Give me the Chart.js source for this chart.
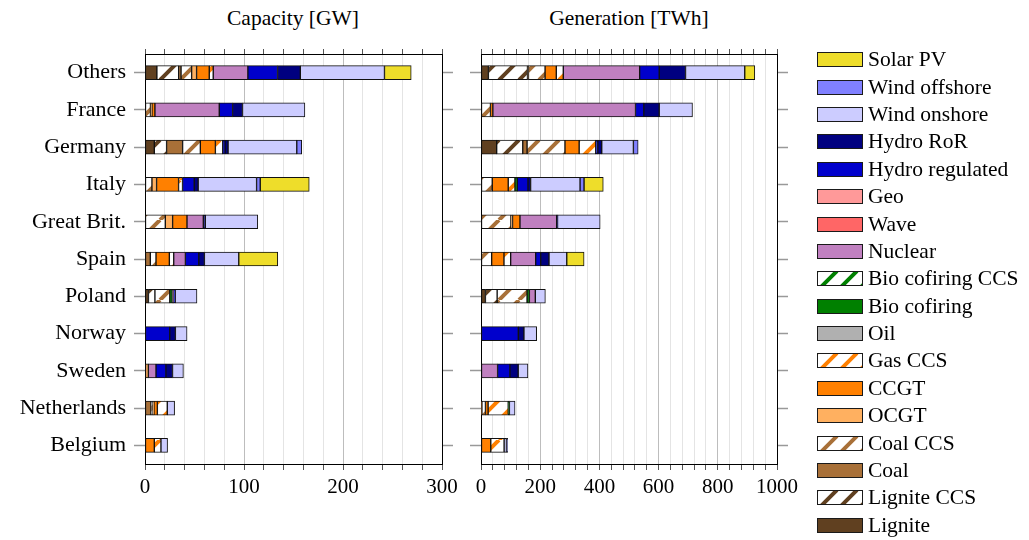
<!DOCTYPE html>
<html>
<head>
<meta charset="utf-8">
<script src="https://cdn.jsdelivr.net/npm/chart.js@4.4.1/dist/chart.umd.min.js"></script>
<style>
  body { margin: 0; background: #fff; width: 1029px; height: 540px; position: relative; overflow: hidden;
         font-family: 'Liberation Serif', serif; color: #000; }
  .title { position: absolute; top: 6px; font-size: 21.5px; transform: translateX(-50%); white-space: nowrap; }
  canvas.chart { position: absolute; top: 0; }
  #legend { position: absolute; left: 817px; top: 46px; }
  .item { display: flex; align-items: center; height: 27.4px; font-size: 21.5px; white-space: nowrap; }
  .item canvas { margin-right: 5px; }
</style>
</head>
<body>
<div class="title" style="left:293px">Capacity [GW]</div>
<div class="title" style="left:629px">Generation [TWh]</div>
<canvas id="cap" class="chart" width="470" height="540" style="left:0"></canvas>
<canvas id="gen" class="chart" width="351" height="540" style="left:459px"></canvas>
<div id="legend"></div>
<script>
// categories (top to bottom)
const countries = ['Others', 'France', 'Germany', 'Italy', 'Great Brit.', 'Spain', 'Poland', 'Norway', 'Sweden', 'Netherlands', 'Belgium'];

// technologies in stacking order (left to right)
const technologies = ['Lignite', 'Lignite CCS', 'Coal', 'Coal CCS', 'OCGT', 'CCGT', 'Gas CCS', 'Oil',
  'Bio cofiring', 'Bio cofiring CCS', 'Nuclear', 'Wave', 'Geo', 'Hydro regulated', 'Hydro RoR',
  'Wind onshore', 'Wind offshore', 'Solar PV'];

// capacity [GW]
const capLignite      = [12, 0, 9.4, 0, 0, 0, 3.5, 0, 0, 0, 0];
const capLigniteCCS   = [22, 0, 12.4, 0, 0, 0, 6.5, 0, 0, 0, 0];
const capCoal         = [2.4, 0, 16.2, 0, 0, 5.4, 0, 0, 0, 6, 0];
const capCoalCCS      = [10.7, 5.5, 17.9, 7, 20.5, 5.7, 15, 0, 0, 2, 0];
const capOCGT         = [5, 1.5, 0, 4.7, 7.4, 0, 0, 0, 3.4, 1, 0];
const capCCGT         = [12.8, 3, 15.2, 22.2, 14.5, 13.5, 0, 0, 0, 3.5, 9.4];
const capGasCCS       = [4, 0, 7.4, 4, 0, 4.4, 0, 0, 0, 10, 6.7];
const capOil          = [0, 0, 0, 0, 0, 0, 0, 0, 0, 0, 0];
const capBio          = [0, 0, 0, 0, 0, 0, 2.5, 0, 0, 0, 0];
const capBioCCS       = [0, 0, 0, 0, 0, 0, 0, 0, 0, 0, 0];
const capNuclear      = [35, 65, 0, 0, 16.5, 11.8, 1.5, 0, 7.7, 0, 0];
const capWave         = [0, 0, 0, 0, 0, 0, 0, 0, 0, 0, 0];
const capGeo          = [0, 0, 0, 0, 0, 0, 0, 0, 0, 0, 0];
const capHydroReg     = [30, 13.5, 2.4, 11.8, 0, 13.5, 1.5, 25, 10, 0, 0];
const capHydroRoR     = [23, 10, 3, 4, 2, 5.7, 0, 5.7, 6.7, 0, 0];
const capWindOn       = [85, 63, 69.4, 59, 53, 34.7, 22, 11.8, 11, 7.4, 6.7];
const capWindOff      = [0, 0, 5, 3.7, 0, 0, 0, 0, 0, 0, 0];
const capSolar        = [27, 0, 0, 49.5, 0, 39.4, 0, 0, 0, 0, 0];

// generation [TWh]
const genLignite      = [25, 0, 53, 0, 0, 0, 15, 0, 0, 0, 0];
const genLigniteCCS   = [132, 0, 88, 0, 0, 0, 39.5, 0, 0, 0, 0];
const genCoal         = [3.4, 0, 14.6, 0, 0, 0, 0, 0, 0, 3, 0];
const genCoalCCS      = [56, 32, 128, 38, 101, 36, 101, 0, 0, 12, 0];
const genOCGT         = [0, 0, 0, 0, 5.6, 0, 0, 0, 0, 0, 0];
const genCCGT         = [38, 8, 48, 54, 25, 41.6, 0, 0, 0, 9, 33];
const genGasCCS       = [23.6, 0, 56, 22.6, 0, 22.6, 0, 0, 0, 68, 45];
const genOil          = [0, 0, 0, 0, 0, 0, 0, 0, 0, 0, 0];
const genBio          = [0, 0, 0, 8, 0, 0, 8, 0, 0, 4, 0];
const genBioCCS       = [0, 0, 0, 0, 0, 0, 0, 0, 0, 0, 0];
const genNuclear      = [258, 482, 0, 0, 124, 84.5, 20, 0, 56, 0, 0];
const genWave         = [0, 0, 0, 0, 0, 0, 0, 0, 0, 0, 0];
const genGeo          = [0, 0, 0, 0, 0, 0, 0, 0, 0, 0, 0];
const genHydroReg     = [66, 28, 6.8, 36, 0, 17, 0, 126, 41.6, 0, 0];
const genHydroRoR     = [89, 52, 13.5, 9, 3, 28, 0, 19, 28, 0, 0];
const genWindOn       = [200, 112.5, 107, 167, 144, 60, 34, 43, 33, 19, 8];
const genWindOff      = [0, 0, 16, 13.5, 0, 0, 0, 0, 0, 0, 4];
const genSolar        = [34, 0, 0, 65, 0, 58.6, 0, 0, 0, 0, 0];

const capValues = [capLignite, capLigniteCCS, capCoal, capCoalCCS, capOCGT, capCCGT, capGasCCS, capOil,
  capBio, capBioCCS, capNuclear, capWave, capGeo, capHydroReg, capHydroRoR, capWindOn, capWindOff, capSolar];
const genValues = [genLignite, genLigniteCCS, genCoal, genCoalCCS, genOCGT, genCCGT, genGasCCS, genOil,
  genBio, genBioCCS, genNuclear, genWave, genGeo, genHydroReg, genHydroRoR, genWindOn, genWindOff, genSolar];

// styles, same order as technologies
const colors = ['#604020', '#604020', '#a87038', '#a87038', '#ffb060', '#ff8000', '#ff8000', '#b0b0b0',
  '#008000', '#008000', '#c080c0', '#ff6666', '#ff9999', '#0000cc', '#000080',
  '#ccccff', '#8080ff', '#eedd2a'];
const hatched = [false, true, false, true, false, false, true, false,
  false, true, false, false, false, false, false, false, false, false];

Chart.defaults.font.family = "'Liberation Serif', serif";
Chart.defaults.font.size = 21;
Chart.defaults.color = '#000';

// white fill with "/" stripes
function hatch(color) {
  const s = 20;
  const c = document.createElement('canvas');
  c.width = s; c.height = s;
  const g = c.getContext('2d');
  g.fillStyle = '#fff';
  g.fillRect(0, 0, s, s);
  g.strokeStyle = color;
  g.lineWidth = 4;
  g.beginPath();
  for (const k of [-1, 0, 1]) {
    g.moveTo(k * s, s);
    g.lineTo(k * s + s, 0);
  }
  g.stroke();
  return g.createPattern(c, 'repeat');
}

function fillFor(i) {
  return hatched[i] ? hatch(colors[i]) : colors[i];
}

function makeDatasets(values) {
  return technologies.map((name, i) => ({
    label: name,
    data: values[i].map(v => v || null),
    backgroundColor: fillFor(i),
    borderColor: '#111',
    borderWidth: 1,
    borderSkipped: false,
    barThickness: 14
  }));
}

function makeChart(id, values, max, step, major, leftW, rightW, showLabels) {
  const yTicks = { drawOnChartArea: false, offset: false, tickLength: 11, tickColor: '#999', tickWidth: 1.5 };
  return new Chart(document.getElementById(id), {
    type: 'bar',
    data: { labels: countries, datasets: makeDatasets(values) },
    options: {
      indexAxis: 'y',
      responsive: false,
      animation: false,
      layout: { padding: 0 },
      plugins: { legend: { display: false }, tooltip: { enabled: false } },
      scales: {
        x: {
          type: 'linear', position: 'bottom', stacked: true, min: 0, max: max,
          ticks: { stepSize: step, autoSkip: false, maxRotation: 0, padding: 5,
                   callback: v => (v % major === 0 ? v : '') },
          grid: { color: ctx => (ctx.tick && ctx.tick.value % major === 0 ? '#bdbdbd' : '#e4e4e4'),
                  tickColor: '#555', tickLength: 6 },
          border: { color: '#000' },
          afterFit: s => { s.height = 76; }
        },
        x2: {
          type: 'linear', position: 'top', min: 0, max: max,
          ticks: { stepSize: step, autoSkip: false, callback: () => '' },
          grid: { drawOnChartArea: false, tickColor: '#555', tickLength: 5 },
          border: { color: '#000' },
          afterFit: s => { s.height = 54; }
        },
        y: {
          stacked: true, position: 'left',
          ticks: { display: showLabels, padding: 8, autoSkip: false, font: { size: 22 } },
          grid: yTicks,
          border: { color: '#000' },
          afterFit: s => { s.width = leftW; }
        },
        y2: {
          type: 'category', labels: countries, position: 'right', offset: true,
          ticks: { display: false },
          grid: yTicks,
          border: { color: '#000' },
          afterFit: s => { s.width = rightW; }
        }
      }
    }
  });
}

makeChart('cap', capValues, 300, 20, 100, 145, 28, true);
makeChart('gen', genValues, 1000, 40, 200, 22, 33, false);

// legend, reversed stacking order
const legend = document.getElementById('legend');
technologies.map((t, i) => i).reverse().forEach(i => {
  const row = document.createElement('div');
  row.className = 'item';
  const sw = document.createElement('canvas');
  sw.width = 46; sw.height = 15;
  const g = sw.getContext('2d');
  g.fillStyle = '#1a1a1a';
  g.fillRect(0, 0, 46, 15);
  g.fillStyle = fillFor(i);
  g.fillRect(1, 1, 44, 13);
  row.appendChild(sw);
  const label = document.createElement('span');
  label.textContent = technologies[i];
  row.appendChild(label);
  legend.appendChild(row);
});
</script>
</body>
</html>
